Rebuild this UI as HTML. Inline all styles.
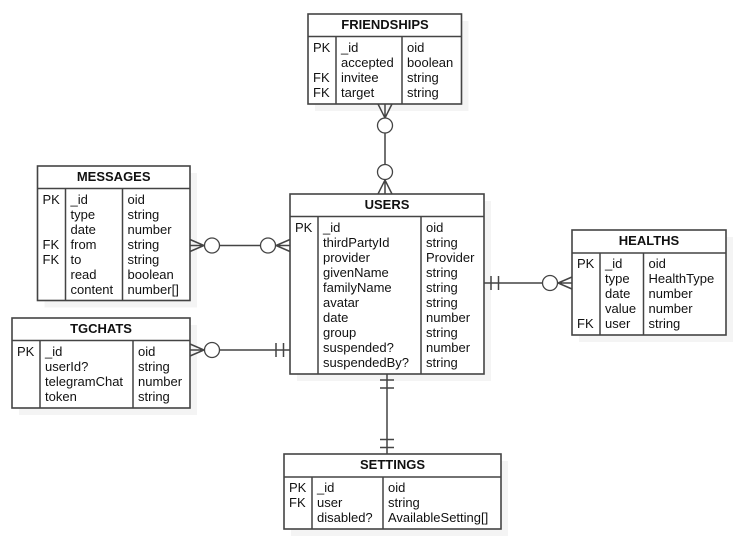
<!DOCTYPE html>
<html><head><meta charset="utf-8"><style>
html,body{margin:0;padding:0;background:#fff}
svg{display:block}
text{font-family:"Liberation Sans",Arial,sans-serif;font-size:13px;fill:#111}
.t{font-weight:bold;text-anchor:middle;font-size:13px}
.b{fill:#fff;stroke:#444;stroke-width:1.6}
.l{stroke:#444;stroke-width:1.5;fill:none}
.c{fill:#fff;stroke:#444;stroke-width:1.3}
.s{fill:#f4f4f4}
</style></head><body>
<svg width="738" height="539" viewBox="0 0 738 539" xmlns="http://www.w3.org/2000/svg">
<!-- shadows -->
<rect class="s" x="315" y="21" width="153.5" height="90"/>
<rect class="s" x="297" y="201" width="194" height="180"/>
<rect class="s" x="44.5" y="173" width="152.5" height="134.5"/>
<rect class="s" x="19" y="325" width="178" height="90"/>
<rect class="s" x="579" y="237" width="154" height="105"/>
<rect class="s" x="291" y="461" width="217" height="75"/>

<!-- connectors -->
<path class="l" d="M385 104V194M378 104L385 118L392 104M378 194L385 180L392 194"/>
<circle class="c" cx="385" cy="125.5" r="7.5"/><circle class="c" cx="385" cy="172" r="7.5"/>
<path class="l" d="M190 245.5H290M190 239.5L204 245.5L190 251.5M290 239.5L276 245.5L290 251.5"/>
<circle class="c" cx="212" cy="245.5" r="7.5"/><circle class="c" cx="268" cy="245.5" r="7.5"/>
<path class="l" d="M190 350H290M190 344L204 350L190 356M276 343V357M283.5 343V357"/>
<circle class="c" cx="212" cy="350" r="7.5"/>
<path class="l" d="M484 283H572M572 277L558 283L572 289M491 276V290M498.5 276V290"/>
<circle class="c" cx="550" cy="283" r="7.5"/>
<path class="l" d="M387 374V454M380 380H394M380 388H394M380 439.5H394M380 447.5H394"/>

<!-- FRIENDSHIPS -->
<rect class="b" x="308" y="14" width="153.5" height="90"/>
<path class="l" d="M308 36.5H461.5M336 36.5V104M402 36.5V104"/>
<text class="t" x="385" y="29">FRIENDSHIPS</text>
<text x="313" y="52">PK</text><text x="341" y="52">_id</text><text x="407" y="52">oid</text>
<text x="341" y="67">accepted</text><text x="407" y="67">boolean</text>
<text x="313" y="82">FK</text><text x="341" y="82">invitee</text><text x="407" y="82">string</text>
<text x="313" y="97">FK</text><text x="341" y="97">target</text><text x="407" y="97">string</text>

<!-- USERS -->
<rect class="b" x="290" y="194" width="194" height="180"/>
<path class="l" d="M290 216.5H484M318 216.5V374M421 216.5V374"/>
<text class="t" x="387" y="209">USERS</text>
<text x="295" y="232">PK</text><text x="323" y="232">_id</text><text x="426" y="232">oid</text>
<text x="323" y="247">thirdPartyId</text><text x="426" y="247">string</text>
<text x="323" y="262">provider</text><text x="426" y="262">Provider</text>
<text x="323" y="277">givenName</text><text x="426" y="277">string</text>
<text x="323" y="292">familyName</text><text x="426" y="292">string</text>
<text x="323" y="307">avatar</text><text x="426" y="307">string</text>
<text x="323" y="322">date</text><text x="426" y="322">number</text>
<text x="323" y="337">group</text><text x="426" y="337">string</text>
<text x="323" y="352">suspended?</text><text x="426" y="352">number</text>
<text x="323" y="367">suspendedBy?</text><text x="426" y="367">string</text>

<!-- MESSAGES -->
<rect class="b" x="37.5" y="166" width="152.5" height="134.5"/>
<path class="l" d="M37.5 188.5H190M65.5 188.5V300.5M122.5 188.5V300.5"/>
<text class="t" x="113.7" y="181">MESSAGES</text>
<text x="42.5" y="204">PK</text><text x="70.5" y="204">_id</text><text x="127.5" y="204">oid</text>
<text x="70.5" y="219">type</text><text x="127.5" y="219">string</text>
<text x="70.5" y="234">date</text><text x="127.5" y="234">number</text>
<text x="42.5" y="249">FK</text><text x="70.5" y="249">from</text><text x="127.5" y="249">string</text>
<text x="42.5" y="264">FK</text><text x="70.5" y="264">to</text><text x="127.5" y="264">string</text>
<text x="70.5" y="279">read</text><text x="127.5" y="279">boolean</text>
<text x="70.5" y="294">content</text><text x="127.5" y="294">number[]</text>

<!-- TGCHATS -->
<rect class="b" x="12" y="318" width="178" height="90"/>
<path class="l" d="M12 340.5H190M40 340.5V408M133 340.5V408"/>
<text class="t" x="101" y="333">TGCHATS</text>
<text x="17" y="356">PK</text><text x="45" y="356">_id</text><text x="138" y="356">oid</text>
<text x="45" y="371">userId?</text><text x="138" y="371">string</text>
<text x="45" y="386">telegramChat</text><text x="138" y="386">number</text>
<text x="45" y="401">token</text><text x="138" y="401">string</text>

<!-- HEALTHS -->
<rect class="b" x="572" y="230" width="154" height="105"/>
<path class="l" d="M572 253H726M600 253V335M643.5 253V335"/>
<text class="t" x="649" y="245">HEALTHS</text>
<text x="577" y="268">PK</text><text x="605" y="268">_id</text><text x="648.5" y="268">oid</text>
<text x="605" y="283">type</text><text x="648.5" y="283">HealthType</text>
<text x="605" y="298">date</text><text x="648.5" y="298">number</text>
<text x="605" y="313">value</text><text x="648.5" y="313">number</text>
<text x="577" y="328">FK</text><text x="605" y="328">user</text><text x="648.5" y="328">string</text>

<!-- SETTINGS -->
<rect class="b" x="284" y="454" width="217" height="75"/>
<path class="l" d="M284 477H501M312 477V529M383 477V529"/>
<text class="t" x="392.5" y="469">SETTINGS</text>
<text x="289" y="492">PK</text><text x="317" y="492">_id</text><text x="388" y="492">oid</text>
<text x="289" y="507">FK</text><text x="317" y="507">user</text><text x="388" y="507">string</text>
<text x="317" y="522">disabled?</text><text x="388" y="522">AvailableSetting[]</text>
</svg>
</body></html>
